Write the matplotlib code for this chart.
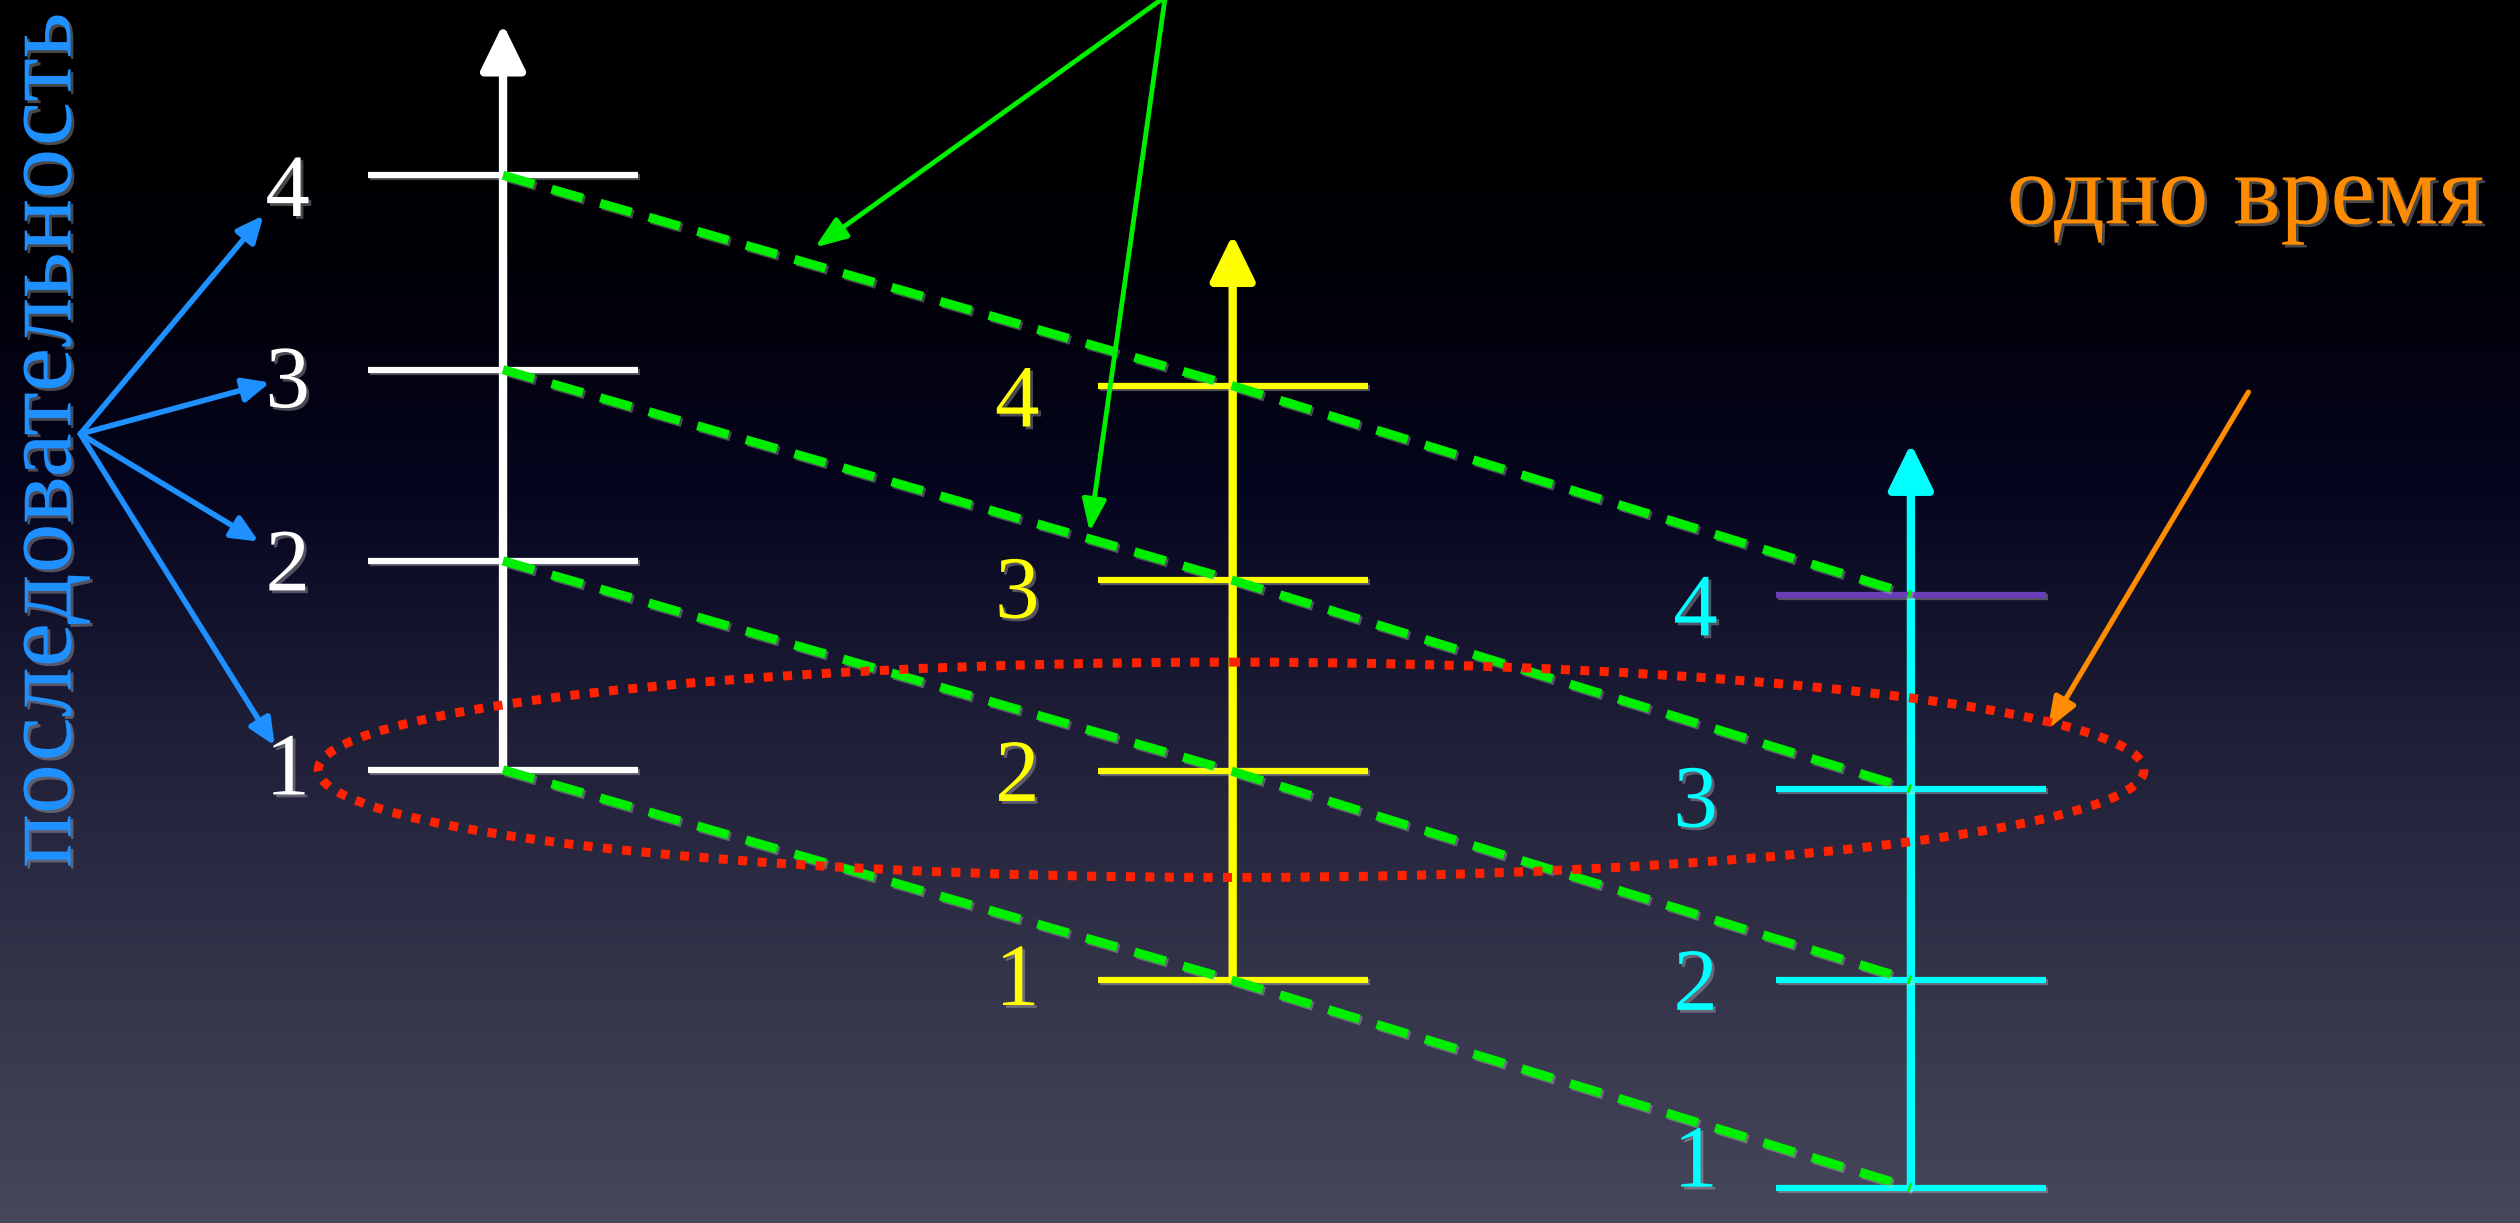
import numpy as np
import matplotlib.pyplot as plt
import matplotlib.patheffects as pe
from matplotlib.patches import Ellipse
from matplotlib.colors import LinearSegmentedColormap

# canvas units: 1568 x 761 (picture coords, y down)
W, H = 1568, 761

levels = ['1', '2', '3', '4']
label_dy = [2, 5, 10, 12]
axis_x = [313, 767, 1189]
axis_colors = ['white', '#ffff00', '#00ffff']
tick_y = [
    [479, 349, 230, 109],   # white
    [610, 480, 361, 240],   # yellow
    [739, 610, 491, 370],   # cyan
]
tick_colors = [
    ['white'] * 4,
    ['#ffff00'] * 4,
    ['#00ffff', '#00ffff', '#00ffff', '#6a3db8'],
]
axis_top = [15, 146, 276]
tick_half = 84

blue_from = (50, 270)
blue_to = [(171, 464), (161, 337), (168, 238), (164, 134)]
green_from = (725, -2)
green_to = [(507, 154), (678, 331)]
orange_from = (1399, 244)
orange_to = (1274, 454)
ellipse_c = (766, 479)
ellipse_w, ellipse_h = 1136, 134

serif = ['Liberation Serif', 'DejaVu Serif']
glow = [pe.SimpleLineShadow(offset=(1.5, -1.5), shadow_color='#d0d0d0', alpha=0.35), pe.Normal()]
tglow = [pe.withSimplePatchShadow(offset=(2, -2), shadow_rgbFace='#d0d0d0', alpha=0.35)]

fig = plt.figure(figsize=(25.2, 12.23), dpi=100)
ax = fig.add_axes([0, 0, 1, 1])
ax.set_xlim(0, W)
ax.set_ylim(H, 0)
ax.axis('off')

# background gradient
bg = LinearSegmentedColormap.from_list('bg', [
    (0.0, (0, 0, 0)), (0.2, (0, 0, 0.02)), (0.4, (0.02, 0.02, 0.12)),
    (0.6, (0.12, 0.12, 0.22)), (0.8, (0.2, 0.2, 0.29)), (1.0, (0.28, 0.28, 0.36))])
grad = np.linspace(0, 1, 400).reshape(-1, 1)
ax.imshow(grad, cmap=bg, aspect='auto', extent=(0, W, H, 0), zorder=0)

# green dashed links between same levels
for k in range(len(levels)):
    ys = [tick_y[a][k] for a in range(3)]
    ax.plot(axis_x, ys, color='#00ee00', lw=6.5, dashes=(3.6, 2.0),
            solid_capstyle='butt', dash_capstyle='butt', zorder=4, path_effects=glow)

# axes with ticks and labels
for a in range(3):
    x = axis_x[a]
    c = axis_colors[a]
    ax.annotate('', xy=(x, axis_top[a]), xytext=(x, tick_y[a][0]),
                arrowprops=dict(arrowstyle='-|>,head_length=0.45,head_width=0.22',
                                color=c, lw=6, mutation_scale=62, shrinkA=0, shrinkB=0),
                zorder=3)
    for k, lab in enumerate(levels):
        y = tick_y[a][k]
        ax.plot([x - tick_half, x + tick_half], [y, y], color=tick_colors[a][k], lw=4.5,
                solid_capstyle='butt', zorder=3, path_effects=glow)
        # keep the label box inside the canvas
        ty = min(y + label_dy[k], H - 36)
        ax.text(x - 134, ty, lab, color=c, fontsize=64, family=serif,
                ha='center', va='center', zorder=5, path_effects=tglow)

# red dotted ellipse
ax.add_patch(Ellipse(ellipse_c, ellipse_w, ellipse_h, fill=False, edgecolor='#ff2200',
                     lw=6.5, linestyle=(0, (1.0, 1.15)), capstyle='butt', zorder=6))

# blue arrows and vertical word
for p in blue_to:
    ax.annotate('', xy=p, xytext=blue_from,
                arrowprops=dict(arrowstyle='-|>,head_length=0.4,head_width=0.18',
                                color='#1e90ff', lw=4, mutation_scale=40, shrinkA=0, shrinkB=0),
                zorder=5)
ax.text(29, 274, 'последовательность', color='#1e90ff', fontsize=72, family=serif,
        rotation=90, ha='center', va='center', zorder=5, path_effects=tglow)

# green arrows
for p in green_to:
    ax.annotate('', xy=p, xytext=green_from,
                arrowprops=dict(arrowstyle='-|>,head_length=0.4,head_width=0.15',
                                color='#00ee00', lw=3.5, mutation_scale=48, shrinkA=0, shrinkB=0),
                zorder=5)

# orange arrow and label
ax.annotate('', xy=orange_to, xytext=orange_from,
            arrowprops=dict(arrowstyle='-|>,head_length=0.4,head_width=0.15',
                            color='#ff8c00', lw=3.8, mutation_scale=48, shrinkA=0, shrinkB=0),
            zorder=5)
ax.text(1397, 139, 'одно время', color='#ff8c00', fontsize=72, family=serif,
        ha='center', va='baseline', zorder=5, path_effects=tglow)

fig.savefig('out.png', dpi=100, facecolor='black')
